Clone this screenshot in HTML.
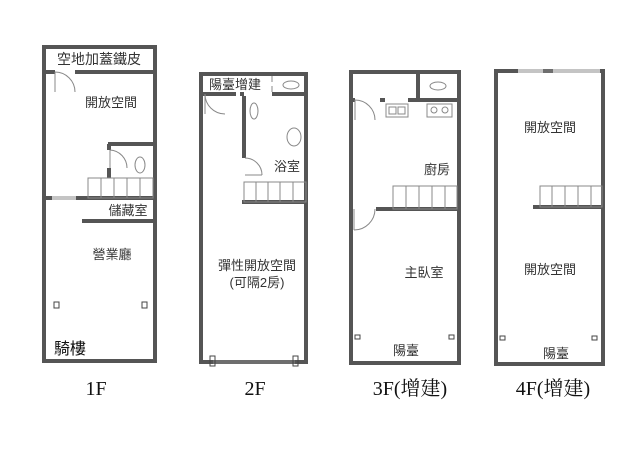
<!DOCTYPE html>
<html><head><meta charset="utf-8"><style>
html,body{margin:0;padding:0;background:#fff;}
svg{display:block}
text{font-family:"Liberation Sans","Noto Sans CJK TC",sans-serif;fill:#333;}
.f{font-family:"Liberation Serif","Noto Serif CJK SC",serif;font-size:20px;fill:#111;}
</style></head><body>
<svg width="640" height="461" viewBox="0 0 640 461" xmlns="http://www.w3.org/2000/svg">
<g stroke="#555" stroke-width="4" fill="none">
<rect x="44" y="47" width="111" height="314"/>
<line x1="44" y1="72" x2="55" y2="72"/><line x1="75" y1="72" x2="155" y2="72"/>
<line x1="108" y1="144" x2="155" y2="144"/><line x1="109" y1="144" x2="109" y2="150"/><line x1="109" y1="168" x2="109" y2="178"/>
<line x1="44" y1="198" x2="52" y2="198"/><line x1="76" y1="198" x2="155" y2="198"/>
<line x1="82" y1="221" x2="155" y2="221"/>
<rect x="201" y="74" width="105" height="288"/>
<line x1="201" y1="94" x2="236" y2="94"/><line x1="240" y1="94" x2="244" y2="94"/><line x1="272" y1="94" x2="306" y2="94"/>
<line x1="244" y1="96" x2="244" y2="158"/>
<line x1="242" y1="202" x2="306" y2="202"/>
<rect x="351" y="72" width="108" height="291"/>
<line x1="418" y1="72" x2="418" y2="100"/>
<line x1="351" y1="100" x2="355" y2="100"/><line x1="380" y1="100" x2="385" y2="100"/><line x1="408" y1="100" x2="459" y2="100"/>
<line x1="376" y1="209" x2="459" y2="209"/>
<path d="M518 71 H496 V364 H603 V71 H600"/>
<line x1="543" y1="71" x2="553" y2="71"/>
<line x1="533" y1="207" x2="603" y2="207"/>
</g>
<g stroke="#888" stroke-width="1" fill="none">
<path d="M55 72 A20 20 0 0 1 75 92"/><line x1="55" y1="72" x2="55" y2="92"/>
<path d="M110 150 A18 18 0 0 1 127 168"/><line x1="110" y1="150" x2="110" y2="168"/>
<ellipse cx="140" cy="165" rx="5" ry="8"/>
<rect x="88" y="178" width="65" height="20"/>
<line x1="101" y1="178" x2="101" y2="198"/><line x1="114" y1="178" x2="114" y2="198"/><line x1="127" y1="178" x2="127" y2="198"/><line x1="140" y1="178" x2="140" y2="198"/>
<line x1="52" y1="197" x2="76" y2="197"/><line x1="52" y1="199" x2="76" y2="199"/>
<rect x="54" y="302" width="5" height="6" stroke="#444"/><rect x="142" y="302" width="5" height="6" stroke="#444"/>
<line x1="272" y1="76" x2="272" y2="82"/><line x1="272" y1="86" x2="272" y2="92"/>
<ellipse cx="291" cy="85" rx="8" ry="4"/>
<path d="M205 94 A20 20 0 0 0 225 114"/><line x1="205" y1="94" x2="205" y2="114"/>
<ellipse cx="254" cy="111" rx="4" ry="8"/>
<ellipse cx="294" cy="137" rx="7" ry="9"/>
<path d="M245 158 A17 17 0 0 1 262 175"/><line x1="245" y1="175" x2="262" y2="175"/>
<rect x="244" y="182" width="62" height="20"/>
<line x1="256" y1="182" x2="256" y2="202"/><line x1="268" y1="182" x2="268" y2="202"/><line x1="280" y1="182" x2="280" y2="202"/><line x1="293" y1="182" x2="293" y2="202"/>
<line x1="213" y1="361" x2="295" y2="361"/><line x1="213" y1="363" x2="295" y2="363"/>
<rect x="210" y="356" width="5" height="10" stroke="#444"/><rect x="293" y="356" width="5" height="10" stroke="#444"/>
<ellipse cx="438" cy="86" rx="8" ry="4"/>
<path d="M355 100 A20 20 0 0 1 375 120"/><line x1="355" y1="100" x2="355" y2="120"/>
<rect x="386" y="104" width="22" height="13"/><rect x="389" y="107" width="7" height="7"/><rect x="398" y="107" width="7" height="7"/>
<rect x="427" y="104" width="25" height="13"/><circle cx="434" cy="110" r="3"/><circle cx="445" cy="110" r="3"/>
<rect x="393" y="186" width="64" height="23"/>
<line x1="406" y1="186" x2="406" y2="209"/><line x1="419" y1="186" x2="419" y2="209"/><line x1="432" y1="186" x2="432" y2="209"/><line x1="445" y1="186" x2="445" y2="209"/>
<path d="M375 209 A21 21 0 0 1 354 230"/><line x1="354" y1="209" x2="354" y2="230"/>
<rect x="355" y="335" width="5" height="4" stroke="#444"/><rect x="449" y="335" width="5" height="4" stroke="#444"/>
<line x1="518" y1="70" x2="600" y2="70"/><line x1="518" y1="72" x2="600" y2="72"/>
<rect x="540" y="186" width="62" height="21"/>
<line x1="552" y1="186" x2="552" y2="207"/><line x1="565" y1="186" x2="565" y2="207"/><line x1="578" y1="186" x2="578" y2="207"/><line x1="591" y1="186" x2="591" y2="207"/>
<rect x="500" y="336" width="5" height="4" stroke="#444"/><rect x="592" y="336" width="5" height="4" stroke="#444"/>
</g>
<g font-size="13">
<text x="99" y="64" text-anchor="middle" font-size="14">空地加蓋鐵皮</text>
<text x="111" y="107" text-anchor="middle">開放空間</text>
<text x="128" y="215" text-anchor="middle">儲藏室</text>
<text x="112" y="259" text-anchor="middle">營業廳</text>
<text x="70" y="354" text-anchor="middle" font-size="16" style="fill:#111">騎樓</text>
<text x="235" y="89" text-anchor="middle">陽臺增建</text>
<text x="287" y="171" text-anchor="middle">浴室</text>
<text x="257" y="270" text-anchor="middle">彈性開放空間</text>
<text x="257" y="287" text-anchor="middle">(可隔2房)</text>
<text x="437" y="174" text-anchor="middle">廚房</text>
<text x="424" y="277" text-anchor="middle">主臥室</text>
<text x="406" y="355" text-anchor="middle">陽臺</text>
<text x="550" y="132" text-anchor="middle">開放空間</text>
<text x="550" y="274" text-anchor="middle">開放空間</text>
<text x="556" y="358" text-anchor="middle">陽臺</text>
</g>
<text class="f" x="96" y="395" text-anchor="middle">1F</text>
<text class="f" x="255" y="395" text-anchor="middle">2F</text>
<text class="f" x="410" y="395" text-anchor="middle">3F(增建)</text>
<text class="f" x="553" y="395" text-anchor="middle">4F(增建)</text>
</svg>
</body></html>
